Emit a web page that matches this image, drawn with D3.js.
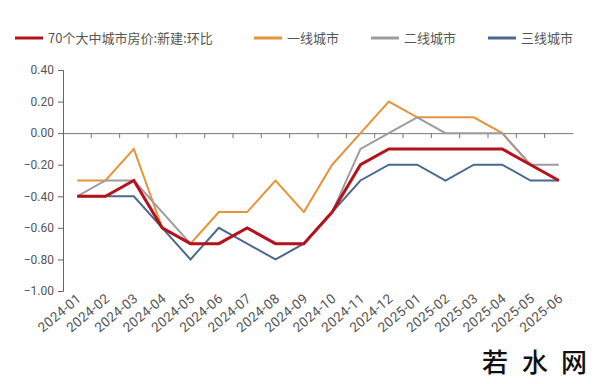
<!DOCTYPE html>
<html><head><meta charset="utf-8">
<script src="https://cdn.jsdelivr.net/npm/d3@7/dist/d3.min.js"></script>
<style>body{margin:0;background:#fff}svg{display:block;font-family:"Noto Sans CJK SC","Noto Sans",sans-serif}</style>
</head><body><svg id="c" width="600" height="384"></svg>
<script>
const categories = ["2024-01","2024-02","2024-03","2024-04","2024-05","2024-06","2024-07","2024-08","2024-09","2024-10","2024-11","2024-12","2025-01","2025-02","2025-03","2025-04","2025-05","2025-06"];
const seriesNames = ["70个大中城市房价:新建:环比","一线城市","二线城市","三线城市"];
const national = [-0.4,-0.4,-0.3,-0.6,-0.7,-0.7,-0.6,-0.7,-0.7,-0.5,-0.2,-0.1,-0.1,-0.1,-0.1,-0.1,-0.2,-0.3];
const tier1 = [-0.3,-0.3,-0.1,-0.6,-0.7,-0.5,-0.5,-0.3,-0.5,-0.2,0.0,0.2,0.1,0.1,0.1,0.0,-0.2,-0.3];
const tier2 = [-0.4,-0.3,-0.3,-0.5,-0.7,-0.7,-0.6,-0.7,-0.7,-0.5,-0.1,0.0,0.1,0.0,0.0,0.0,-0.2,-0.2];
const tier3 = [-0.4,-0.4,-0.4,-0.6,-0.8,-0.6,-0.7,-0.8,-0.7,-0.5,-0.3,-0.2,-0.2,-0.3,-0.2,-0.2,-0.3,-0.3];
const yTicks = [0.4,0.2,0,-0.2,-0.4,-0.6,-0.8,-1.0];
const watermark = ["若","水","网"];

const colors = ["#B5121B","#E6943A","#9C9C9C","#4A6990"];
const widths = [3,2,2,2];
const data = [national,tier1,tier2,tier3];

const svg = d3.select("#c");
const x = d3.scaleBand().domain(categories).range([63,573]);
const y = d3.scaleLinear().domain([-1.0,0.4]).range([291,70]);

// y axis
const ya = svg.append("g").attr("transform","translate(63,0)")
  .call(d3.axisLeft(y).tickValues(yTicks).tickSize(5).tickFormat(d=>d3.format(".2f")(d).replace("-","−")));
ya.select(".domain").attr("stroke","#666");
ya.selectAll(".tick line").attr("stroke","#666");
ya.selectAll("text").attr("fill","#555").style("font-size","12px").style("font-family","Roboto, sans-serif").attr("x",-9);

// zero line with inner band ticks
const xa = svg.append("g").attr("transform",`translate(0,${y(0)})`)
  .call(d3.axisBottom(x).tickValues([]).tickSizeOuter(0));
xa.select(".domain").attr("stroke","#777");
const bounds = categories.slice(1).map(c=>x(c));
xa.selectAll("line.b").data(bounds).enter().append("line")
  .attr("x1",d=>d).attr("x2",d=>d).attr("y1",0).attr("y2",5).attr("stroke","#777");

// x labels
svg.append("g").selectAll("text").data(categories).enter().append("text")
  .attr("transform",d=>`translate(${x(d)+x.bandwidth()/2+5},300) rotate(-40)`)
  .attr("text-anchor","end").attr("fill","#555").style("font-size","13.5px")
  .style("letter-spacing","0.3px")
  .style("font-family","Roboto, sans-serif").text(d=>d);

// lines (draw thin first, national on top)
const line = d3.line().x((d,i)=>x(categories[i])+x.bandwidth()/2).y(d=>y(d));
[1,2,3,0].forEach(k=>{
  svg.append("path").datum(data[k]).attr("d",line).attr("fill","none")
    .attr("stroke",colors[k]).attr("stroke-width",widths[k]).attr("stroke-linejoin","miter");
});

// legend
const legX = [15,254,371,488];
seriesNames.forEach((n,k)=>{
  svg.append("line").attr("x1",legX[k]).attr("x2",legX[k]+28).attr("y1",38).attr("y2",38)
    .attr("stroke",colors[k]).attr("stroke-width",3);
  svg.append("text").attr("x",legX[k]+33).attr("y",43).attr("fill","#555").style("font-size","13px").text(n);
});

// watermark
const wx = [482,522,561];
watermark.forEach((t,i)=>{
  svg.append("text").attr("x",wx[i]).attr("y",372).attr("fill","#111").style("font-size","26px")
    .style("font-weight","500").text(t);
});
</script></body></html>
